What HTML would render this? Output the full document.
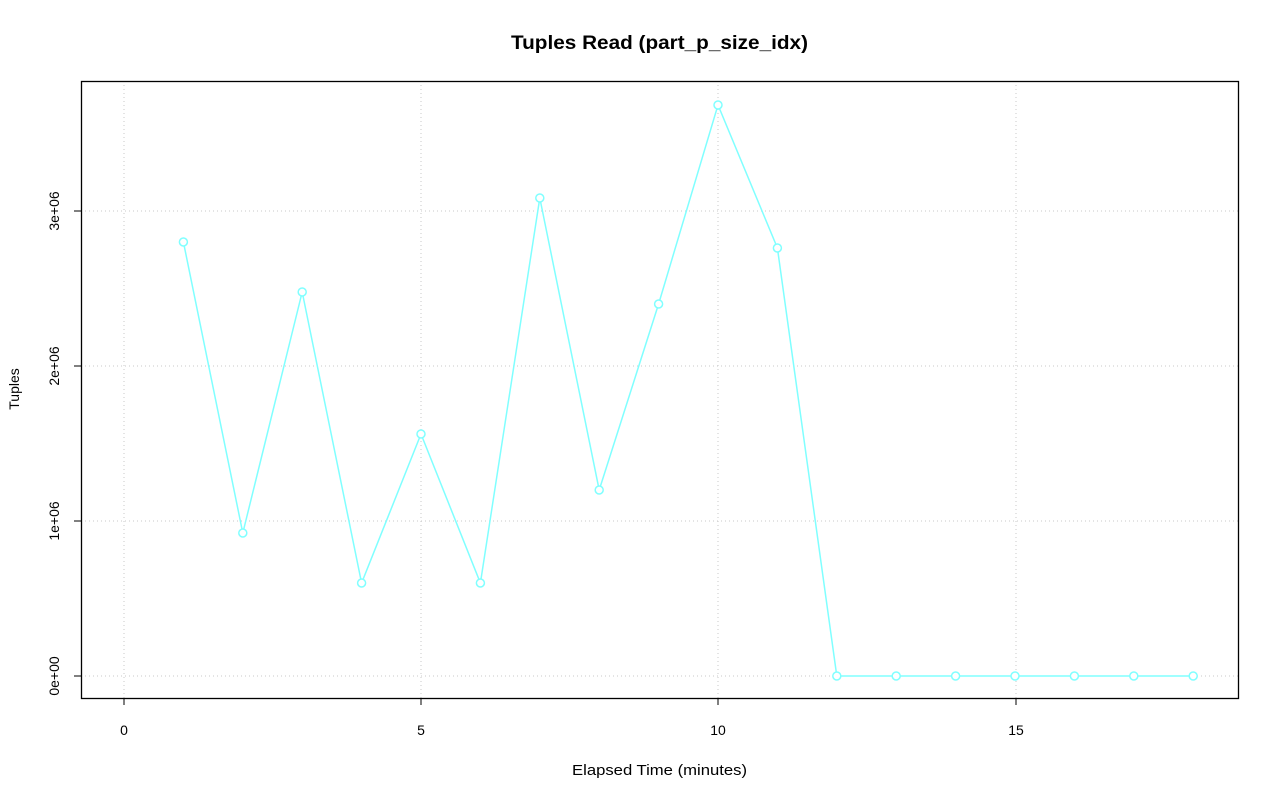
<!DOCTYPE html>
<html><head><style>body{margin:0;background:#fff}svg{display:block}</style></head><body>
<svg width="1280" height="801" xmlns="http://www.w3.org/2000/svg" font-family="Liberation Sans, sans-serif">
<rect width="1280" height="801" fill="#fff"/>
<text x="659.5" y="49" font-size="19" font-weight="bold" text-anchor="middle" textLength="297" lengthAdjust="spacingAndGlyphs">Tuples Read (part_p_size_idx)</text>
<g stroke="#c8c8c8" stroke-width="1" stroke-dasharray="1,3">
<line x1="124" y1="81" x2="124" y2="698"/><line x1="421" y1="81" x2="421" y2="698"/>
<line x1="718" y1="81" x2="718" y2="698"/><line x1="1016" y1="81" x2="1016" y2="698"/>
<line x1="81" y1="676" x2="1238" y2="676"/><line x1="81" y1="521" x2="1238" y2="521"/>
<line x1="81" y1="366" x2="1238" y2="366"/><line x1="81" y1="211" x2="1238" y2="211"/>
</g>
<rect x="81.5" y="81.5" width="1157" height="617" fill="none" stroke="#000" stroke-width="1.3"/>
<g stroke="#000" stroke-width="1">
<line x1="124" y1="698" x2="124" y2="705"/><line x1="421" y1="698" x2="421" y2="705"/>
<line x1="718" y1="698" x2="718" y2="705"/><line x1="1016" y1="698" x2="1016" y2="705"/>
<line x1="81" y1="676" x2="74" y2="676"/><line x1="81" y1="521" x2="74" y2="521"/>
<line x1="81" y1="366" x2="74" y2="366"/><line x1="81" y1="211" x2="74" y2="211"/>
</g>
<g font-size="14" text-anchor="middle">
<text x="124" y="735">0</text><text x="421" y="735">5</text><text x="718" y="735">10</text><text x="1016" y="735">15</text>
<text transform="translate(59,676) rotate(-90)">0e+00</text>
<text transform="translate(59,521) rotate(-90)">1e+06</text>
<text transform="translate(59,366) rotate(-90)">2e+06</text>
<text transform="translate(59,211) rotate(-90)">3e+06</text>
<text x="659.5" y="775" font-size="15" textLength="175" lengthAdjust="spacingAndGlyphs">Elapsed Time (minutes)</text>
<text transform="translate(19,389) rotate(-90)">Tuples</text>
</g>
<polyline fill="none" stroke="#80ffff" stroke-width="1.5" points="183.4,242 242.8,533 302.2,292 361.6,583 421,434 480.4,583 539.8,198 599.2,490 658.6,304 718,105 777.4,248 836.8,676 896.2,676 955.6,676 1015,676 1074.4,676 1133.8,676 1193.2,676"/>
<g fill="#fff" stroke="#80ffff" stroke-width="1.5">
<circle cx="183.4" cy="242" r="4"/><circle cx="242.8" cy="533" r="4"/><circle cx="302.2" cy="292" r="4"/>
<circle cx="361.6" cy="583" r="4"/><circle cx="421" cy="434" r="4"/><circle cx="480.4" cy="583" r="4"/>
<circle cx="539.8" cy="198" r="4"/><circle cx="599.2" cy="490" r="4"/><circle cx="658.6" cy="304" r="4"/>
<circle cx="718" cy="105" r="4"/><circle cx="777.4" cy="248" r="4"/><circle cx="836.8" cy="676" r="4"/>
<circle cx="896.2" cy="676" r="4"/><circle cx="955.6" cy="676" r="4"/><circle cx="1015" cy="676" r="4"/>
<circle cx="1074.4" cy="676" r="4"/><circle cx="1133.8" cy="676" r="4"/><circle cx="1193.2" cy="676" r="4"/>
</g>
</svg>
</body></html>
